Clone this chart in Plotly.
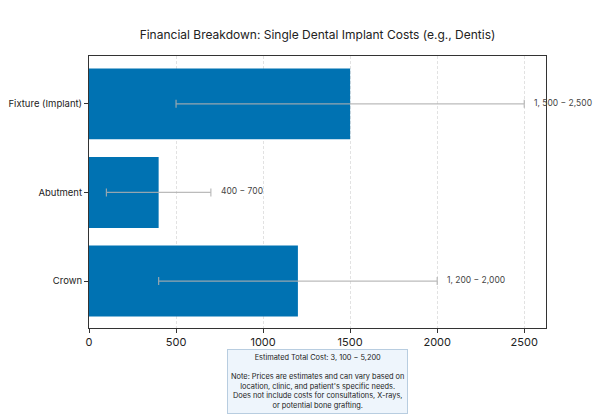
import plotly.graph_objects as go

categories = ["Fixture (Implant)", "Abutment", "Crown"]
costs = [1500, 400, 1200]
err_minus = [1000, 300, 800]
err_plus = [1000, 300, 800]
range_labels = ["1, 500 − 2,500", "400 − 700", "1, 200 − 2,000"]
title = "Financial Breakdown: Single Dental Implant Costs (e.g., Dentis)"
note = ("Estimated Total Cost: 3, 100 − 5,200<br><br>"
        "Note: Prices are estimates and can vary based on<br>"
        "location, clinic, and patient's specific needs.<br>"
        "Does not include costs for consultations, X-rays,<br>"
        "or potential bone grafting.")

FONT = "Inter, Lato, sans-serif"

fig = go.Figure()
fig.add_trace(go.Bar(
    y=categories, x=costs, orientation="h",
    marker=dict(color="#0072B2", line=dict(width=0)),
    width=0.8,
    error_x=dict(type="data", symmetric=False, array=err_plus, arrayminus=err_minus,
                 color="rgba(175,175,175,0.85)", thickness=1.2, width=4),
    showlegend=False,
))

for cat, c, ep, lab in zip(categories, costs, err_plus, range_labels):
    fig.add_annotation(x=c + ep, y=cat, text=lab, showarrow=False,
                       xanchor="left", xshift=8, yshift=1,
                       font=dict(size=8.5, color="#444", family=FONT))

fig.add_annotation(x=0.5, y=-0.077, xref="paper", yref="paper", text=note,
                   showarrow=False, xanchor="center", yanchor="top", align="center",
                   bgcolor="#EEF5FC", bordercolor="#B8CDE0", borderwidth=1, borderpad=3,
                   font=dict(size=7.4, color="#222", family=FONT))

fig.update_layout(
    width=600, height=420,
    margin=dict(l=89, r=54, t=56, b=92, autoexpand=False),
    paper_bgcolor="white", plot_bgcolor="white",
    font=dict(family=FONT, color="#222"),
    title=dict(text=title, x=0.5, xref="paper", y=0.917, yanchor="middle",
               font=dict(size=12, color="#222", family=FONT)),
    bargap=0.2,
)
fig.update_xaxes(range=[0, 2625], tickvals=[0, 500, 1000, 1500, 2000, 2500],
                 showgrid=True, gridcolor="#e2e2e2", griddash="3px,2px", gridwidth=0.8,
                 showline=True, linecolor="#333", linewidth=1, mirror=True,
                 ticks="outside", ticklen=4, tickcolor="#333", automargin=False,
                 tickfont=dict(size=11, color="#222"), zeroline=False)
fig.update_yaxes(categoryorder="array", categoryarray=categories[::-1],
                 range=[-0.53, 2.54], automargin=False,
                 showgrid=False, showline=True, linecolor="#333", linewidth=1, mirror=True,
                 ticks="outside", ticklen=4, tickcolor="#333",
                 tickfont=dict(size=9.5, color="#222"))

fig.write_html("out.html")
